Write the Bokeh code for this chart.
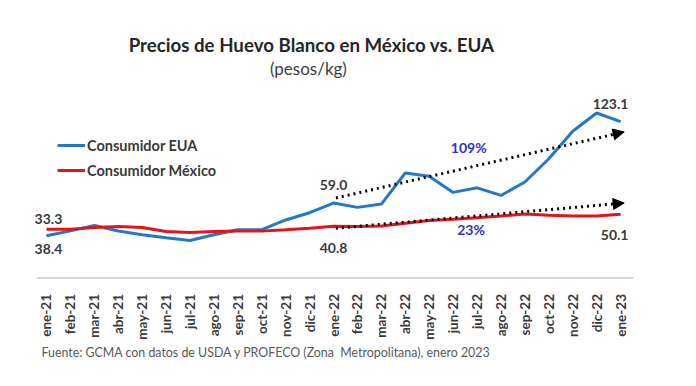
from bokeh.plotting import figure
from bokeh.models import FixedTicker, Label, Arrow, NormalHead, Legend, LegendItem
from bokeh.embed import file_html
from bokeh.resources import INLINE
import math

months = ["ene-21", "feb-21", "mar-21", "abr-21", "may-21", "jun-21", "jul-21", "ago-21",
          "sep-21", "oct-21", "nov-21", "dic-21", "ene-22", "feb-22", "mar-22", "abr-22",
          "may-22", "jun-22", "jul-22", "ago-22", "sep-22", "oct-22", "nov-22", "dic-22", "ene-23"]
eua = [33.3, 37.1, 41.3, 37.0, 34.0, 31.7, 29.5, 34.0, 38.0, 38.0, 45.7, 51.4, 59.0, 55.6,
       58.2, 82.7, 80.1, 67.4, 71.0, 65.0, 75.6, 93.9, 115.5, 129.9, 123.1]
mex = [38.4, 38.4, 39.7, 40.5, 39.7, 36.6, 35.8, 36.6, 36.9, 36.9, 37.9, 39.2, 40.8, 40.5,
       41.0, 43.1, 45.2, 46.2, 47.5, 48.8, 50.4, 49.4, 48.8, 48.9, 50.1]
# trend arrows (start index, start value, end index, end value)
trend_eua = [12.1, 63.0, 24.15, 115.0]
trend_mex = [12.1, 39.2, 24.15, 59.0]
pct_labels = ["109%", "23%"]

title = "Precios de Huevo Blanco en México vs. EUA"
subtitle = "(pesos/kg)"
source_note = "Fuente: GCMA con datos de USDA y PROFECO (Zona\u00a0 Metropolitana), enero 2023"

FONT = "Lato"
BLUE = "#2479c6"
RED = "#e5141c"
TXT = "#3a3a3a"

x = list(range(len(months)))

p = figure(width=680, height=370, output_backend="svg", toolbar_location=None,
           x_range=(-1.923, 26.505), y_range=(-72.85, 218.5),
           min_border=0)
p.outline_line_color = None
p.xgrid.visible = False
p.ygrid.visible = False
p.yaxis.visible = False
p.background_fill_color = "white"
p.border_fill_color = "white"
p.title.visible = False

xa = p.xaxis[0]
xa.fixed_location = 0
xa.ticker = FixedTicker(ticks=x)
xa.major_label_overrides = {i: m for i, m in enumerate(months)}
xa.major_label_orientation = math.pi / 2
xa.major_label_text_font = FONT
xa.major_label_text_font_style = "bold"
xa.major_label_text_font_size = "13.5px"
xa.major_label_text_color = TXT
xa.major_label_standoff = 10
xa.major_tick_line_color = None
xa.minor_tick_line_color = None
xa.axis_line_color = None

# axis baseline
p.segment(x0=[-0.4], y0=[0], x1=[24.54], y1=[0], line_color="#d9d9d9", line_width=2)

r_eua = p.line(x, eua, line_color=BLUE, line_width=3)
r_mex = p.line(x, mex, line_color=RED, line_width=3)

legend = Legend(items=[LegendItem(label="Consumidor EUA", renderers=[r_eua]),
                       LegendItem(label="Consumidor México", renderers=[r_mex])],
                location=(57, 190), orientation="vertical",
                background_fill_alpha=0, border_line_alpha=0,
                padding=0, margin=0, spacing=5, glyph_width=28, glyph_height=20,
                label_height=20, label_standoff=2,
                label_text_font=FONT, label_text_font_style="bold",
                label_text_font_size="14.5px", label_text_color=TXT)
p.add_layout(legend, "center")

# trend arrows
for tr in (trend_eua, trend_mex):
    p.add_layout(Arrow(x_start=tr[0], y_start=tr[1], x_end=tr[2], y_end=tr[3],
                       line_color="black", line_width=3, line_dash="dotted",
                       end=NormalHead(size=11, fill_color="black", line_color="black")))

def lab(xv, yv, text, yoff, color=TXT, size="14px", style="bold", align="center"):
    p.add_layout(Label(x=xv, y=yv, text=text, y_offset=yoff, text_align=align,
                       text_baseline="middle", text_font=FONT, text_font_style=style,
                       text_font_size=size, text_color=color))

last = len(months) - 1
lab(0.08, eua[0], f"{eua[0]:.1f}", 17)
lab(0.08, mex[0], f"{mex[0]:.1f}", -20)
lab(12, eua[12], f"{eua[12]:.1f}", 18)
lab(12, mex[12], f"{mex[12]:.1f}", -22)
lab(last - 0.42, eua[last], f"{eua[last]:.1f}", 18)
lab(last - 0.25, mex[last], f"{mex[last]:.1f}", -21)

lab(17.65, 103, pct_labels[0], 0, color="#3030d8")
lab(17.75, 38, pct_labels[1], 0, color="#3030d8")

lab(11.08, 183.5, title, 0, color="#262626", size="18.7px")
lab(10.95, 164.6, subtitle, 0, color="#404040", size="17px", style="normal")
lab(-0.21, -58.3, source_note, 0, color="#595959", size="12.4px", style="normal", align="left")

open("out.html", "w").write(file_html(p, INLINE))
